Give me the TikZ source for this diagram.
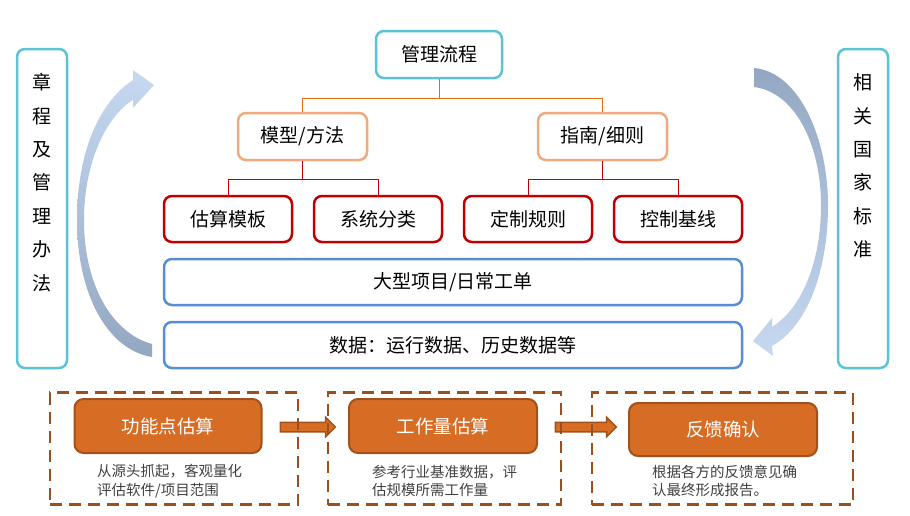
\documentclass[tikz,border=0pt]{standalone}
\usepackage{fontspec}
\setmainfont{Noto Sans CJK SC}
\usetikzlibrary{shapes.arrows}
\definecolor{cyanB}{HTML}{5BC3D6}
\definecolor{tanB}{HTML}{F0AA80}
\definecolor{redB}{HTML}{C00000}
\definecolor{blueB}{HTML}{558ED5}
\definecolor{oLine}{HTML}{E46C0A}
\definecolor{darkA}{HTML}{93A7C2}
\definecolor{lightA}{HTML}{C6D9F1}
\definecolor{oFill}{HTML}{D76D24}
\definecolor{oDraw}{HTML}{A0521A}
\definecolor{dashC}{HTML}{9A4F1C}
\definecolor{descC}{HTML}{404040}
\begin{document}
\begin{tikzpicture}[x=1pt,y=-1pt,
  base/.style={draw, rounded corners=8pt, line width=2.5pt, inner sep=0pt, fill=white,
    font=\fontsize{19}{22}\selectfont, text=black},
  sidebox/.style={base, draw=cyanB, minimum width=50pt, minimum height=319pt},
  vtext/.style={inner sep=0pt, align=center, font=\fontsize{19}{33.4}\selectfont},
  topbox/.style={base, draw=cyanB, minimum width=126pt, minimum height=47pt},
  midbox/.style={base, draw=tanB, minimum width=129pt, minimum height=47pt},
  leafbox/.style={base, draw=redB, minimum width=128pt, minimum height=46pt},
  widebox/.style={base, draw=blueB, minimum width=578pt, minimum height=46pt},
  oline/.style={draw=oLine, line width=0.9pt},
  rline/.style={draw=redB, line width=0.9pt},
  dashbox/.style={draw=dashC, line width=2.6pt, dash pattern=on 12pt off 7pt, minimum height=112pt, inner sep=0pt},
  obox/.style={draw=oDraw, fill=oFill, line width=2pt, rounded corners=9pt, minimum height=54pt, minimum width=187pt, inner sep=0pt, text=white, font=\fontsize{18.5}{22}\selectfont},
  barrow/.style={shape=single arrow, draw=oDraw, fill=oFill, line width=1.5pt, inner xsep=0pt, inner ysep=4pt, minimum width=0pt, single arrow head extend=5pt, single arrow head indent=0pt},
  desc/.style={anchor=west, align=left, inner sep=0pt, text=descC, font=\fontsize{14.5}{18.5}\selectfont}
]
\useasboundingbox (0,0) rectangle (910,515);

% side boxes
\node[sidebox] (lbox) at (42,208.5) {};
\node[vtext] (ltxt) at (42,182.5) {章\\程\\及\\管\\理\\办\\法};
\node[sidebox] (rbox) at (863,208.5) {};
\node[vtext] (rtxt) at (863,166) {相\\关\\国\\家\\标\\准};

% curved arrows
\shade[top color=lightA, bottom color=darkA]
  (152,344) .. controls (112,333) and (84,285) .. (84,220)
  .. controls (84,160) and (108,115) .. (133,100)
  -- (133,108) -- (154,85) -- (133,70) -- (133,80)
  .. controls (95,105) and (77,160) .. (77,220)
  .. controls (77,295) and (108,350) .. (152,357) -- cycle;
\shade[top color=darkA, bottom color=lightA]
  (754,68) .. controls (800,72) and (828,140) .. (828,205)
  .. controls (828,275) and (805,328) .. (772,346)
  -- (773,356) -- (753,341) -- (772,318) -- (772,327)
  .. controls (802,308) and (821,262) .. (821,205)
  .. controls (821,145) and (795,92) .. (754,87) -- cycle;

% tree
\node[topbox] (top) at (439,54.5) {管理流程};
\node[midbox] (m1) at (302.5,136.5) {模型/方法};
\node[midbox] (m2) at (602.5,136.5) {指南/细则};
\node[leafbox] (l1) at (228,219) {估算模板};
\node[leafbox] (l2) at (378,219) {系统分类};
\node[leafbox] (l3) at (528,219) {定制规则};
\node[leafbox] (l4) at (678,219) {控制基线};
\node[widebox] (w1) at (453,282) {大型项目/日常工单};
\node[widebox] (w2) at (453,345) {数据：运行数据、历史数据等};

\draw[oline] (top.south) -- ++(0,19) coordinate (j0) -| (m1.north);
\draw[oline] (j0) -| (m2.north);
\draw[rline] (m1.south) -- ++(0,18) coordinate (j1) -| (l1.north);
\draw[rline] (j1) -| (l2.north);
\draw[rline] (m2.south) -- ++(0,18) coordinate (j2) -| (l3.north);
\draw[rline] (j2) -| (l4.north);

% bottom process
\node[barrow, minimum height=55pt] (a1) at (305.5,427) {};
\node[barrow, minimum height=61pt] (a2) at (583.5,427) {};
\node[dashbox, minimum width=248pt] (d1) at (174,448.5) {};
\node[dashbox, minimum width=233pt] (d2) at (444.5,448.5) {};
\node[dashbox, minimum width=261pt] (d3) at (722.5,448.5) {};
\node[obox] (o1) at (168,426) {功能点估算};
\node[obox, minimum width=188pt] (o2) at (443,426) {工作量估算};
\node[obox, minimum width=188pt, minimum height=53pt] (o3) at (723,429.5) {反馈确认};

\node[desc] (t1) at (97,481) {从源头抓起，客观量化\\评估软件/项目范围};
\node[desc] (t2) at (372,481) {参考行业基准数据，评\\估规模所需工作量};
\node[desc] (t3) at (652,481) {根据各方的反馈意见确\\认最终形成报告。};
\end{tikzpicture}
\end{document}
